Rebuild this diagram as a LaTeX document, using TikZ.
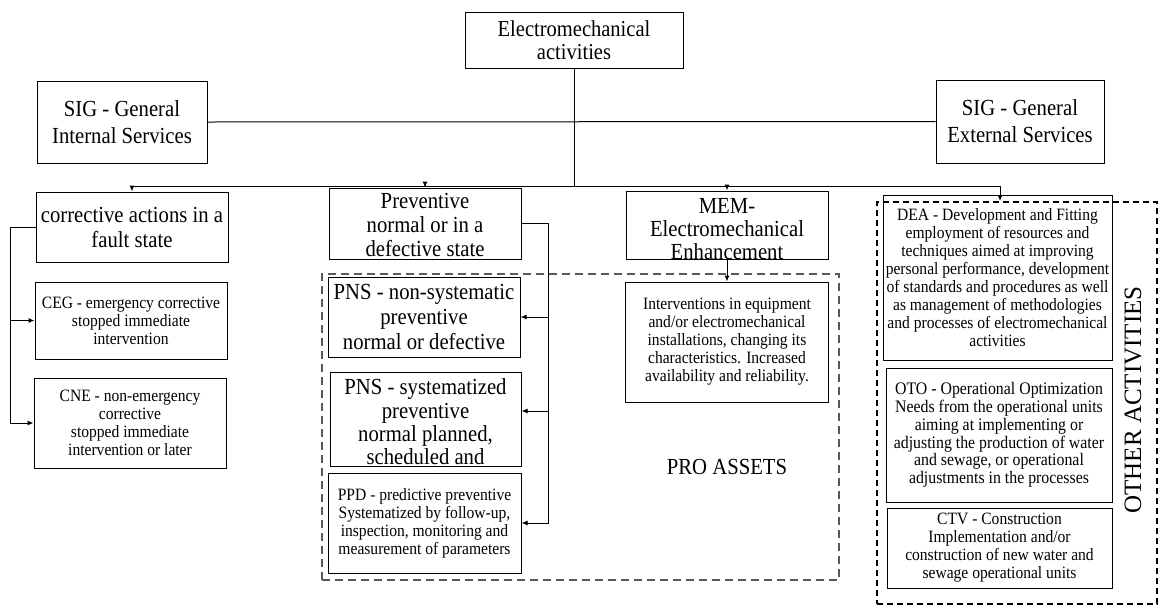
\documentclass[tikz,border=0pt]{standalone}
\usepackage{fontspec}
\setmainfont{Liberation Serif}[FakeStretch=0.9]
\newfontfamily\uprightserif{Liberation Serif}
\usetikzlibrary{arrows.meta}

\tikzset{
  box/.style={draw, line width=1pt, inner sep=0pt, align=center},
  txt/.style={inner sep=0pt, align=center},
  big/.style={font=\fontsize{23}{25}\selectfont},
  small/.style={font=\fontsize{17.3}{18}\selectfont},
  wire/.style={line width=1pt},
  arr/.style={wire, -{Latex[length=6pt,width=5pt]}},
  groupbox/.style={draw, inner sep=0pt},
}

\begin{document}
\begin{tikzpicture}[x=1pt, y=-1pt]
\useasboundingbox (0,0) rectangle (1160,606);

% --- top level -------------------------------------------------------
\node[box, font=\fontsize{22.8}{23}\selectfont, minimum width=218pt, minimum height=56pt]
  (top) at (574,40) {Electromechanical\\activities};
\node[box, font=\fontsize{23}{27}\selectfont, minimum width=170pt, minimum height=82pt]
  (sigi) at (122,122) {SIG - General\\Internal Services};
\node[box, font=\fontsize{23}{27}\selectfont, minimum width=168pt, minimum height=83pt]
  (sige) at (1020,121.5) {SIG - General\\External Services};

% --- groups ----------------------------------------------------------
\node[groupbox, draw=black!65, line width=1.2pt, dash pattern=on 8pt off 5pt,
  minimum width=517pt, minimum height=306pt] (pro) at (580.5,427) {};
\node[txt, big] (prolabel) at (727,467) {PRO ASSETS};
\node[groupbox, line width=1.8pt, dash pattern=on 6pt off 4pt,
  minimum width=280pt, minimum height=402pt] (other) at (1017,403) {};
\node[txt, font=\uprightserif\fontsize{25}{27}\selectfont, rotate=90]
  (otherlabel) at (1133,400) {OTHER ACTIVITIES};

% --- corrective branch -----------------------------------------------
\node[box, big, minimum width=192pt, minimum height=70pt]
  (corr) at (132,227) {corrective actions in a\\fault state};
\node[box, small, minimum width=192pt, minimum height=77pt]
  (ceg) at (131,320.5) {CEG - emergency corrective\\stopped immediate\\intervention};
\node[box, small, minimum width=192pt, minimum height=90pt]
  (cne) at (130,423) {CNE - non-emergency\\corrective\\stopped immediate\\intervention or later};

% --- preventive branch -----------------------------------------------
\node[box, minimum width=192pt, minimum height=71pt] (prev) at (425,223.5) {};
\node[txt, font=\fontsize{23}{24}\selectfont] (prevtext) at (425,225)
  {Preventive\\normal or in a\\defective state};
\node[box, big, minimum width=192pt, minimum height=80pt]
  (pns1) at (424,317) {PNS - non-systematic\\preventive\\normal or defective};
\node[box, minimum width=191pt, minimum height=94pt] (pns2) at (425.5,419) {};
\node[txt, font=\fontsize{23}{23.4}\selectfont] (pns2text) at (425.5,422)
  {PNS - systematized\\preventive\\normal planned,\\scheduled and};
\node[box, small, minimum width=193pt, minimum height=100pt]
  (ppd) at (424.5,523) {PPD - predictive preventive\\Systematized by follow-up,\\inspection, monitoring and\\measurement of parameters};

% --- enhancement branch ----------------------------------------------
\node[box, minimum width=202pt, minimum height=68pt] (mem) at (727,225) {};
\node[txt, font=\fontsize{23}{23}\selectfont] (memtext) at (727,229)
  {MEM-\\Electromechanical\\Enhancement};
\node[box, small, minimum width=203pt, minimum height=120pt]
  (interv) at (727,342) {Interventions in equipment\\and/or electromechanical\\installations, changing its\\characteristics. Increased\\availability and reliability.};

% --- other activities ------------------------------------------------
\node[box, small, minimum width=229pt, minimum height=165pt]
  (dea) at (997.5,277.5) {DEA - Development and Fitting\\employment of resources and\\techniques aimed at improving\\personal performance, development\\of standards and procedures as well\\as management of methodologies\\and processes of electromechanical\\activities};
\node[box, font=\fontsize{17.6}{17.8}\selectfont, minimum width=226pt, minimum height=134pt]
  (oto) at (999,435) {OTO - Operational Optimization\\Needs from the operational units\\aiming at implementing or\\adjusting the production of water\\and sewage, or operational\\adjustments in the processes};
\node[box, small, minimum width=225pt, minimum height=80pt]
  (ctv) at (999.5,548) {CTV - Construction\\Implementation and/or\\construction of new water and\\sewage operational units};

% --- connectors ------------------------------------------------------
\coordinate (busL) at (132,186);
\coordinate (busR) at (1000,186);
\coordinate (lbar) at (10,0);
\coordinate (rbar) at (548,0);

\draw[wire] (sigi.east) -- (sige.west);
\draw[wire] (top.south) -- (top.south |- busL);
\draw[wire] (busL) -- (busR);
\draw[arr] (busL) -- (corr.north);
\draw[arr] (prev.north |- busL) -- (prev.north);
\draw[arr] (mem.north |- busL) -- (mem.north);
\draw[arr] (busR) -- (busR |- other.north);

\draw[arr] (corr.west) -- (corr.west -| lbar) -- (cne.west -| lbar) -- (cne.west);
\draw[arr] (ceg.west -| lbar) -- (ceg.west);

\draw[arr] (prev.east) -- (prev.east -| rbar) -- (ppd.east -| rbar) -- (ppd.east);
\draw[arr] (pns1.east -| rbar) -- (pns1.east);
\draw[arr] ([yshift=8pt]pns2.east -| rbar) -- ([yshift=8pt]pns2.east);

\draw[arr] (mem.south) -- (interv.north);
\end{tikzpicture}
\end{document}
